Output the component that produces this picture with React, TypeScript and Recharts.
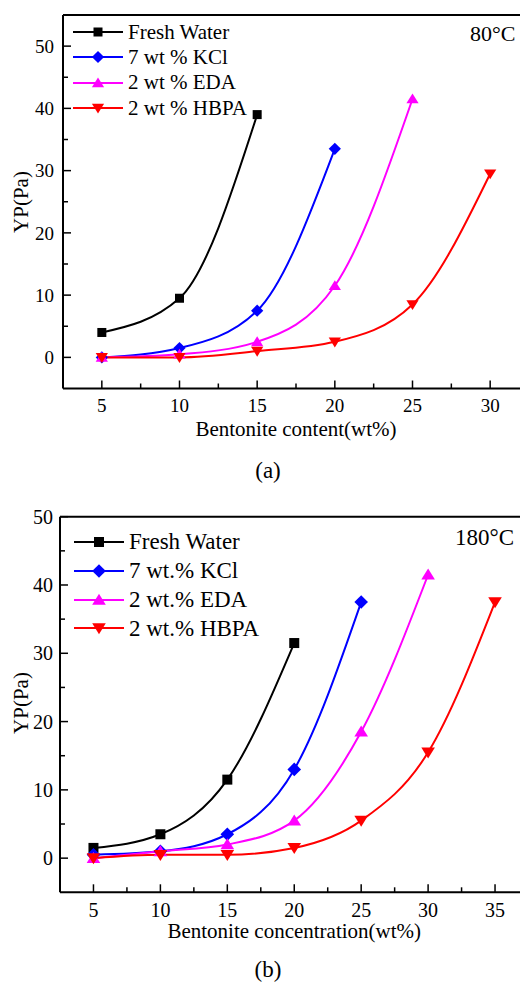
import React from "react";
import { LineChart, Line, XAxis, YAxis, Legend } from "recharts";

const FONT = '"Liberation Serif", "Times New Roman", Times, serif';

const colors = ["#000000", "#0000ff", "#ff00ff", "#ff0000"];
const shapes = ["square", "diamond", "up", "down"];

// (a) 80°C
const namesA = ["Fresh Water", "7 wt % KCl", "2 wt % EDA", "2 wt % HBPA"];
const contentA = [5, 10, 15, 20, 25, 30];
const freshA = [4, 9.5, 39];
const kclA = [0, 1.5, 7.5, 33.5];
const edaA = [0, 0.5, 2.5, 11.5, 41.5];
const hbpaA = [0, 0, 1, 2.5, 8.5, 29.5];
const xTicksA = [5, 7.5, 10, 12.5, 15, 17.5, 20, 22.5, 25, 27.5, 30];
const yTicksA = [0, 5, 10, 15, 20, 25, 30, 35, 40, 45, 50];

// (b) 180°C
const namesB = ["Fresh Water", "7 wt.% KCl", "2 wt.% EDA", "2 wt.% HBPA"];
const concB = [5, 10, 15, 20, 25, 30, 35];
const freshB = [1.5, 3.5, 11.5, 31.5];
const kclB = [0.5, 1, 3.5, 13, 37.5];
const edaB = [0, 1, 2, 5.5, 18.5, 41.5];
const hbpaB = [0, 0.5, 0.5, 1.5, 5.5, 15.5, 37.5];
const xTicksB = [5, 7.5, 10, 12.5, 15, 17.5, 20, 22.5, 25, 27.5, 30, 32.5, 35];
const yTicksB = [0, 5, 10, 15, 20, 25, 30, 35, 40, 45, 50];

const keys = ["s0", "s1", "s2", "s3"];

function buildRows(xs: number[], series: number[][]) {
  return xs.map((x, i) => {
    const row: Record<string, number | null> = { x };
    series.forEach((s, k) => {
      row[keys[k]] = i < s.length ? s[i] : null;
    });
    return row;
  });
}

function Marker({ cx, cy, shape, color, size }: any) {
  if (cx == null || cy == null || isNaN(cy)) return null;
  const s = size;
  if (shape === "square") {
    return <rect x={cx - s / 2} y={cy - s / 2} width={s} height={s} fill={color} />;
  }
  if (shape === "diamond") {
    const r = s * 0.68;
    return <polygon points={`${cx},${cy - r} ${cx + r},${cy} ${cx},${cy + r} ${cx - r},${cy}`} fill={color} />;
  }
  const w = s * 0.68;
  if (shape === "up") {
    return <polygon points={`${cx},${cy - s * 0.62} ${cx + w},${cy + s * 0.48} ${cx - w},${cy + s * 0.48}`} fill={color} />;
  }
  return <polygon points={`${cx},${cy + s * 0.62} ${cx + w},${cy - s * 0.48} ${cx - w},${cy - s * 0.48}`} fill={color} />;
}

type PanelProps = {
  top: number;
  height: number;
  margin: { top: number; right: number; bottom: number; left: number };
  xs: number[];
  series: number[][];
  names: string[];
  xDomain: [number, number];
  yDomain: [number, number];
  xTicks: number[];
  yTicks: number[];
  xLabel: string;
  tickFont: number;
  labelFont: number;
  legendFont: number;
  legendLeft: number;
  legendTop: number;
  legendRow: number;
  markerSize: number;
  yTickGap: number;
  xTickGap: number;
  xLabelGap: number;
  yLabelY: number;
};

function Panel(p: PanelProps) {
  const rows = buildRows(p.xs, p.series);
  // axes get 1px of room so that Recharts draws them; margins are reduced to match
  const m = { top: p.margin.top - 1, right: p.margin.right, bottom: p.margin.bottom - 1, left: p.margin.left - 1 };

  const YTick = (t: any) => {
    const v = t.payload.value;
    const major = v % 10 === 0;
    return (
      <g>
        <line x1={t.x} x2={t.x + (major ? 8 : 5)} y1={t.y} y2={t.y} stroke="#000" strokeWidth={1.5} />
        {major && (
          <text x={t.x - p.yTickGap} y={t.y} dy="0.35em" textAnchor="end" fontSize={p.tickFont} fontFamily={FONT} fill="#000">
            {v}
          </text>
        )}
      </g>
    );
  };

  const XTick = (t: any) => {
    const v = t.payload.value;
    const major = v % 5 === 0;
    return (
      <g>
        <line x1={t.x} x2={t.x} y1={t.y} y2={t.y - (major ? 8 : 5)} stroke="#000" strokeWidth={1.5} />
        {major && (
          <text x={t.x} y={t.y + p.xTickGap} dy="0.35em" textAnchor="middle" fontSize={p.tickFont} fontFamily={FONT} fill="#000">
            {v}
          </text>
        )}
      </g>
    );
  };

  const legendContent = () => (
    <div style={{ fontFamily: FONT, fontSize: p.legendFont, color: "#000" }}>
      {p.names.map((n, i) => (
        <div key={n} style={{ display: "flex", alignItems: "center", height: p.legendRow, whiteSpace: "nowrap" }}>
          <svg width={50} height={16} style={{ display: "block" }}>
            <line x1={0} x2={50} y1={8} y2={8} stroke={colors[i]} strokeWidth={2} />
            <Marker cx={25} cy={8} shape={shapes[i]} color={colors[i]} size={p.markerSize} />
          </svg>
          <span style={{ marginLeft: 5, lineHeight: 1, fontFamily: FONT }}>{n}</span>
        </div>
      ))}
    </div>
  );

  return (
    <div style={{ position: "absolute", left: 0, top: p.top }}>
      <LineChart width={540} height={p.height} data={rows} margin={m}>
        <XAxis
          dataKey="x"
          type="number"
          domain={p.xDomain}
          ticks={p.xTicks}
          interval={0}
          height={1}
          tickSize={0}
          tickMargin={0}
          tickLine={false}
          axisLine={{ stroke: "#000", strokeWidth: 2 }}
          tick={XTick}
          allowDataOverflow
          label={{
            content: (l: any) => {
              const vb = l.viewBox;
              return (
                <text x={vb.x + vb.width / 2} y={vb.y + p.xLabelGap} dy="0.35em" textAnchor="middle" fontSize={p.labelFont} fontFamily={FONT} fill="#000">
                  {p.xLabel}
                </text>
              );
            },
          }}
        />
        <XAxis
          xAxisId="top"
          orientation="top"
          dataKey="x"
          type="number"
          domain={p.xDomain}
          height={1}
          tick={false}
          tickLine={false}
          axisLine={{ stroke: "#000", strokeWidth: 2 }}
          allowDataOverflow
        />
        <YAxis
          type="number"
          domain={p.yDomain}
          ticks={p.yTicks}
          interval={0}
          width={1}
          tickSize={0}
          tickMargin={0}
          tickLine={false}
          axisLine={{ stroke: "#000", strokeWidth: 2 }}
          tick={YTick}
          allowDataOverflow
          label={{
            content: () => (
              <text
                x={21}
                y={p.yLabelY}
                dy="0.35em"
                textAnchor="middle"
                fontSize={p.labelFont}
                fontFamily={FONT}
                fill="#000"
                transform={`rotate(-90, 21, ${p.yLabelY})`}
              >
                YP(Pa)
              </text>
            ),
          }}
        />
        <Legend
          layout="vertical"
          align="center"
          verticalAlign="middle"
          wrapperStyle={{ left: p.legendLeft, top: p.legendTop, width: "auto", fontFamily: FONT }}
          content={legendContent}
        />
        {keys.map((k, i) => (
          <Line
            key={k}
            dataKey={k}
            name={p.names[i]}
            type="monotone"
            stroke={colors[i]}
            strokeWidth={2}
            isAnimationActive={false}
            connectNulls={false}
            dot={(d: any) => (
              <Marker key={`${k}-${d.index}`} cx={d.cx} cy={d.cy} shape={shapes[i]} color={colors[i]} size={p.markerSize} />
            )}
            activeDot={false}
          />
        ))}
      </LineChart>
    </div>
  );
}

export default function App() {
  return (
    <div
      style={{
        position: "absolute",
        left: 0,
        top: 0,
        width: 520,
        height: 982,
        overflow: "hidden",
        background: "#fff",
        fontFamily: FONT,
      }}
    >
      <Panel
        top={0}
        height={450}
        margin={{ top: 15, right: 11, bottom: 61.5, left: 63 }}
        xs={contentA}
        series={[freshA, kclA, edaA, hbpaA]}
        names={namesA}
        xDomain={[2.5, 32.5]}
        yDomain={[-5, 55]}
        xTicks={xTicksA}
        yTicks={yTicksA}
        xLabel="Bentonite content(wt%)"
        tickFont={19}
        labelFont={21}
        legendFont={21}
        legendLeft={73}
        legendTop={19.5}
        legendRow={25.3}
        markerSize={9}
        yTickGap={9}
        xTickGap={17}
        xLabelGap={40}
        yLabelY={202}
      />
      <div style={{ position: "absolute", left: 470, top: 34, transform: "translateY(-50%)", fontSize: 22, lineHeight: 1, whiteSpace: "nowrap" }}>
        80°C
      </div>
      <div style={{ position: "absolute", left: 0, width: 536, top: 470, transform: "translateY(-50%)", textAlign: "center", fontSize: 23, lineHeight: 1 }}>
        (a)
      </div>

      <Panel
        top={500}
        height={470}
        margin={{ top: 16.7, right: 11.5, bottom: 77.7, left: 60 }}
        xs={concB}
        series={[freshB, kclB, edaB, hbpaB]}
        names={namesB}
        xDomain={[2.5, 37.5]}
        yDomain={[-5, 50]}
        xTicks={xTicksB}
        yTicks={yTicksB}
        xLabel="Bentonite concentration(wt%)"
        tickFont={20}
        labelFont={21}
        legendFont={23}
        legendLeft={74}
        legendTop={27.3}
        legendRow={28.9}
        markerSize={10}
        yTickGap={7}
        xTickGap={18}
        xLabelGap={38.5}
        yLabelY={203}
      />
      <div style={{ position: "absolute", left: 455, top: 536.7, transform: "translateY(-50%)", fontSize: 23, lineHeight: 1, whiteSpace: "nowrap" }}>
        180°C
      </div>
      <div style={{ position: "absolute", left: 0, width: 536, top: 969, transform: "translateY(-50%)", textAlign: "center", fontSize: 23, lineHeight: 1 }}>
        (b)
      </div>
    </div>
  );
}
